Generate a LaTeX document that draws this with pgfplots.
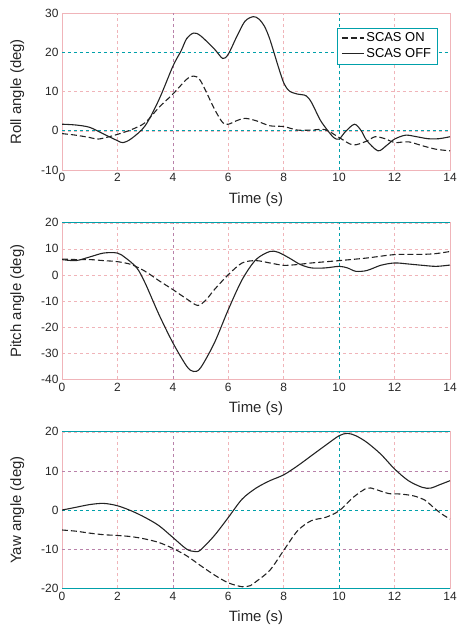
\documentclass[border=0pt]{standalone}
\usepackage{fontspec}
\setmainfont{Liberation Sans}
\usepackage{pgfplots}
\pgfplotsset{compat=1.18}
\definecolor{gpink}{RGB}{240,180,185}
\definecolor{gcyan}{RGB}{0,160,170}
\definecolor{gpurp}{RGB}{185,130,170}
\definecolor{curve}{RGB}{35,35,35}
\tikzset{
 cyanl/.style={gcyan, dashed, line width=0.8pt},
 purpl/.style={gpurp, dashed, line width=0.6pt},
}
\pgfplotsset{
 myax/.style={scale only axis, width=388bp, height=156.5bp, xmin=0, xmax=14,
   xtick={0,2,...,14}, grid=major,
   major grid style={gpink, dashed, line width=0.5pt},
   axis line style={gpink, line width=0.8pt},
   major tick length=0pt,
   tick label style={font=\fontsize{12}{14}\selectfont, text=black!85},
   label style={font=\fontsize{15}{18}\selectfont, text=black!85},
   /pgf/number format/assume math mode=true,
   xlabel={Time (s)},
   xlabel style={at={(axis description cs:0.5,-0.19)}, anchor=center},
   ylabel style={at={(axis description cs:-0.115,0.5)}, anchor=center},
   anchor=south west},
 on/.style={curve, line width=1.1pt, dash pattern=on 6pt off 3pt, smooth},
 off/.style={curve, line width=1.1pt, smooth},
}
\begin{document}
\begin{tikzpicture}
\useasboundingbox (0,0) rectangle (460bp,628bp);
% ---------- Roll ----------
\begin{axis}[myax, name=roll, at={(62bp,458bp)}, ymin=-10, ymax=30, ytick={-10,0,...,30},
  ylabel={Roll angle (deg)},
  legend image code/.code={\draw[#1] (0bp,0bp) -- (22bp,0bp);},
  legend style={at={(axis description cs:0.709,0.91)}, anchor=north west,
    draw=gcyan, font=\fontsize{13}{15}\selectfont, cells={anchor=west},
    inner xsep=4pt, inner ysep=3pt, row sep=1pt}]
\draw[cyanl] (axis cs:0,0) -- (axis cs:14,0);
\draw[cyanl] (axis cs:0,20) -- (axis cs:14,20);
\draw[cyanl] (axis cs:10,-10) -- (axis cs:10,30);
\draw[purpl] (axis cs:4,-10) -- (axis cs:4,30);
\addplot[on] coordinates {
(0,-0.7)(0.5,-1.1)(1,-1.7)(1.3,-2.1)(1.7,-1.5)(2,-0.9)(2.5,0.3)(3,2.1)(3.5,6)(4,9.4)
(4.5,13.2)(4.75,14)(5,12.8)(5.5,5.6)(5.8,2.1)(6,1.7)(6.3,2.6)(6.6,3.2)(7,2.6)(7.5,1.3)
(8,1.1)(8.5,0.2)(9,0.2)(9.5,0.3)(10,-1.7)(10.5,-3.6)(11,-2.6)(11.3,-1.5)(11.7,-2.1)
(12,-3)(12.5,-2.8)(13,-3.8)(13.5,-4.7)(14,-5.1)};
\addlegendentry{SCAS ON}
\addplot[off] coordinates {
(0,1.7)(0.5,1.5)(1,0.9)(1.5,-0.8)(2,-2.5)(2.2,-3)(2.5,-2)(3,1.3)(3.5,8)(4,16.5)
(4.3,20.5)(4.5,23.6)(4.75,25)(5,24.3)(5.5,20.9)(5.8,18.5)(6,19.6)(6.3,24)(6.6,28)
(6.9,29.2)(7.1,28.6)(7.3,26.8)(7.5,23.4)(7.8,16.5)(8,12.3)(8.2,10.2)(8.5,9.4)(8.8,9)
(9,7.3)(9.3,3)(9.5,0.9)(9.8,-1.7)(10,-2.1)(10.2,-0.4)(10.55,1.7)(10.8,0)(11,-2.5)
(11.4,-5.1)(11.7,-3.8)(12,-2.1)(12.4,-1.1)(12.8,-1.5)(13.2,-2)(13.6,-2)(14,-1.5)};
\addlegendentry{SCAS OFF}
\end{axis}
% ---------- Pitch ----------
\begin{axis}[myax, name=pitch, at={(62bp,248.7bp)}, ymin=-40, ymax=20, ytick={-40,-30,...,20},
  ylabel={Pitch angle (deg)}]
\draw[cyanl] (axis cs:10,-40) -- (axis cs:10,20);
\draw[purpl] (axis cs:4,-40) -- (axis cs:4,20);
\addplot[on] coordinates {
(0,6.1)(0.5,5.9)(1,5.9)(1.5,5.5)(2,5.1)(2.5,4)(3,1.4)(3.5,-2.2)(4,-5.6)(4.5,-9.2)
(4.9,-11.7)(5.2,-9.5)(5.5,-5.6)(6,0.1)(6.5,4.6)(7,5.5)(7.5,4.6)(8,3.7)(8.5,4)(9,4.6)
(10,5.5)(11,6.5)(12,7.8)(13,7.9)(13.5,8.2)(14,9)};
\addplot[off] coordinates {
(0,5.9)(0.5,5.5)(1,6.9)(1.5,8.4)(2,8.4)(2.3,6.5)(2.7,2.7)(3,-3.1)(3.5,-15.2)(4,-26)
(4.5,-35)(4.75,-37)(5,-35.6)(5.5,-26)(6,-13.3)(6.5,-1.8)(7,5.9)(7.5,9)(7.8,8.7)
(8.2,6.5)(8.6,4)(9,2.7)(9.5,2.7)(10,3.3)(10.3,2.7)(10.6,1.4)(11,1.7)(11.5,3.7)
(12,4.6)(12.5,4.2)(13,3.7)(13.5,3.3)(14,3.8)};
\end{axis}
% ---------- Yaw ----------
\begin{axis}[myax, name=yaw, at={(62bp,39.7bp)}, ymin=-20, ymax=20, ytick={-20,-10,...,20},
  ylabel={Yaw angle (deg)}]
\draw[cyanl] (axis cs:0,0) -- (axis cs:14,0);
\draw[purpl] (axis cs:0,10) -- (axis cs:14,10);
\draw[purpl] (axis cs:0,-10) -- (axis cs:14,-10);
\draw[cyanl] (axis cs:10,-20) -- (axis cs:10,20);
\draw[purpl] (axis cs:4,-20) -- (axis cs:4,20);
\addplot[on] coordinates {
(0,-5.1)(0.5,-5.4)(1,-5.9)(1.5,-6.3)(2,-6.5)(2.5,-6.8)(3,-7.4)(3.5,-8.3)(4,-9.8)
(4.5,-11.7)(5,-14.2)(5.5,-16.6)(6,-18.6)(6.5,-19.6)(6.8,-19.3)(7,-18.3)(7.5,-15.4)
(8,-10.3)(8.5,-5.3)(9,-2.7)(9.5,-1.9)(10,-0.2)(10.5,3.2)(11,5.6)(11.3,5.3)(11.8,4.2)
(12.2,4.1)(12.7,3.6)(13.1,2.5)(13.4,0.7)(13.7,-1)(14,-2.3)};
\addplot[off] coordinates {
(0,0)(0.5,0.7)(1,1.4)(1.5,1.7)(2,1.1)(2.5,-0.2)(3,-1.9)(3.5,-4)(4,-7)(4.5,-10)
(4.8,-10.6)(5,-10.2)(5.5,-6.5)(6,-1.9)(6.5,2.8)(7,5.6)(7.5,7.5)(8,9)(8.5,11.3)
(9,13.9)(9.5,16.5)(10,19)(10.3,19.6)(10.6,19)(11,17.3)(11.5,14.3)(12,10.5)(12.5,7.5)
(13,5.8)(13.3,5.6)(13.6,6.4)(14,7.5)};
\end{axis}
\draw[gcyan, line width=1pt] (pitch.north west) -- (pitch.north east);
\draw[gcyan, line width=1pt] (yaw.north west) -- (yaw.north east);
\draw[gcyan, line width=1pt] (yaw.south west) -- (yaw.south east);
\end{tikzpicture}
\end{document}
